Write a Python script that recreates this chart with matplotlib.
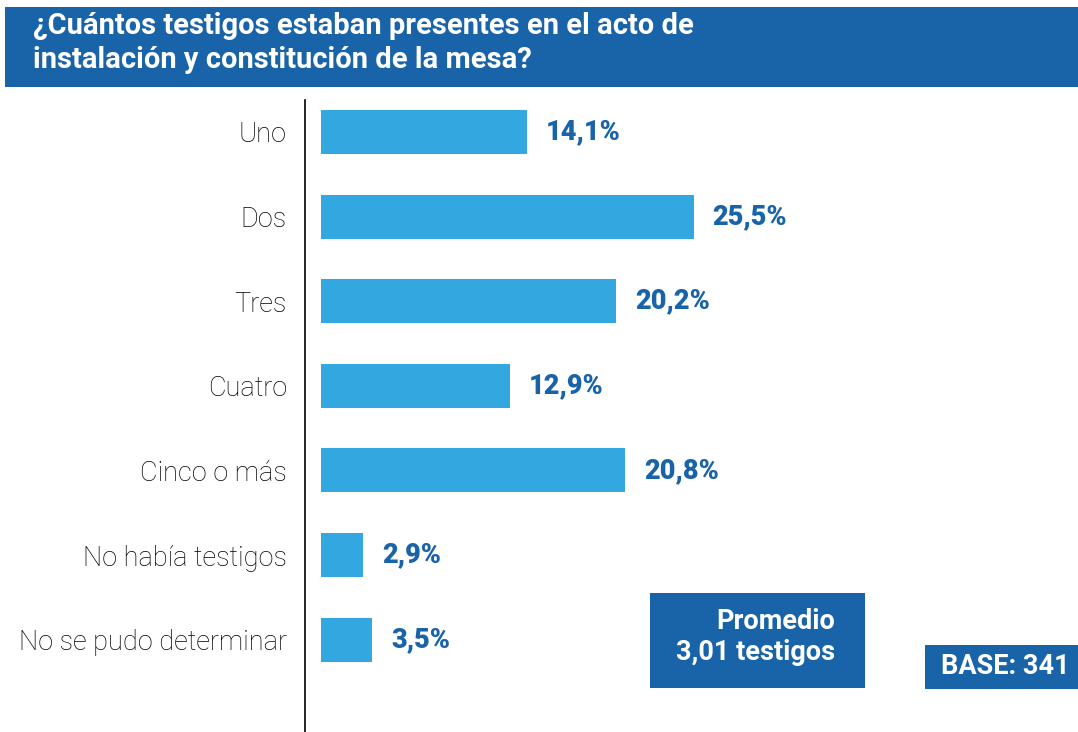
import matplotlib
matplotlib.use("Agg")
import matplotlib.pyplot as plt
from matplotlib.patches import Rectangle

categories = ["Uno", "Dos", "Tres", "Cuatro", "Cinco o más", "No había testigos", "No se pudo determinar"]
values = [14.1, 25.5, 20.2, 12.9, 20.8, 2.9, 3.5]
value_labels = ["14,1%", "25,5%", "20,2%", "12,9%", "20,8%", "2,9%", "3,5%"]
title = "¿Cuántos testigos estaban presentes en el acto de\ninstalación y constitución de la mesa?"
promedio_text = "Promedio\n3,01 testigos"
base_text = "BASE: 341"

DARK = "#1963A9"
BAR = "#33A8E0"

W, H = 1078, 732
fig = plt.figure(figsize=(W / 100, H / 100), dpi=100)
fig.patch.set_facecolor("white")

# title banner
fig.patches.append(Rectangle((5 / W, 1 - 87 / H), (W - 5) / W, 80 / H,
                             transform=fig.transFigure, facecolor=DARK, edgecolor="none"))
fig.text(33 / W, 1 - 43 / H, title, color="white", fontsize=21, fontweight="bold",
         family="Roboto", va="center", ha="left", linespacing=1.25)

ax = fig.add_axes([305 / W, 0, 1 - 305 / W, 1 - 100 / H])
ypos = list(range(len(categories)))
ax.barh(ypos, values, height=0.52, color=BAR, left=0)
ax.set_xlim(-1.1, 51.8)
ax.set_ylim(7.092, -0.378)
for s in ["top", "right", "bottom"]:
    ax.spines[s].set_visible(False)
ax.spines["left"].set_linewidth(1.2)
ax.spines["left"].set_color("black")
ax.set_xticks([])
ax.set_yticks(ypos)
ax.set_yticklabels(categories, fontsize=19.5, family="Roboto", fontweight="light", color="black")
ax.tick_params(axis="y", length=0, pad=13)

for y, v, lab in zip(ypos, values, value_labels):
    ax.annotate(lab, (v, y), xytext=(19, 0), textcoords="offset pixels",
                va="center", ha="left", fontsize=19.5, fontweight="heavy",
                family="Roboto", color=DARK)

# Promedio box
fig.patches.append(Rectangle((650 / W, 1 - 688 / H), 215 / W, 95 / H,
                             transform=fig.transFigure, facecolor=DARK, edgecolor="none"))
fig.text(835 / W, 1 - 637 / H, promedio_text, color="white", fontsize=19.5, fontweight="bold",
         family="Roboto", va="center", ha="right", multialignment="right", linespacing=1.15)

# Base box
fig.patches.append(Rectangle((925 / W, 1 - 689 / H), 153 / W, 44 / H,
                             transform=fig.transFigure, facecolor=DARK, edgecolor="none"))
fig.text(1005 / W, 1 - 666 / H, base_text, color="white", fontsize=19.5, fontweight="bold",
         family="Roboto", va="center", ha="center")

fig.savefig("out.png", dpi=100)
